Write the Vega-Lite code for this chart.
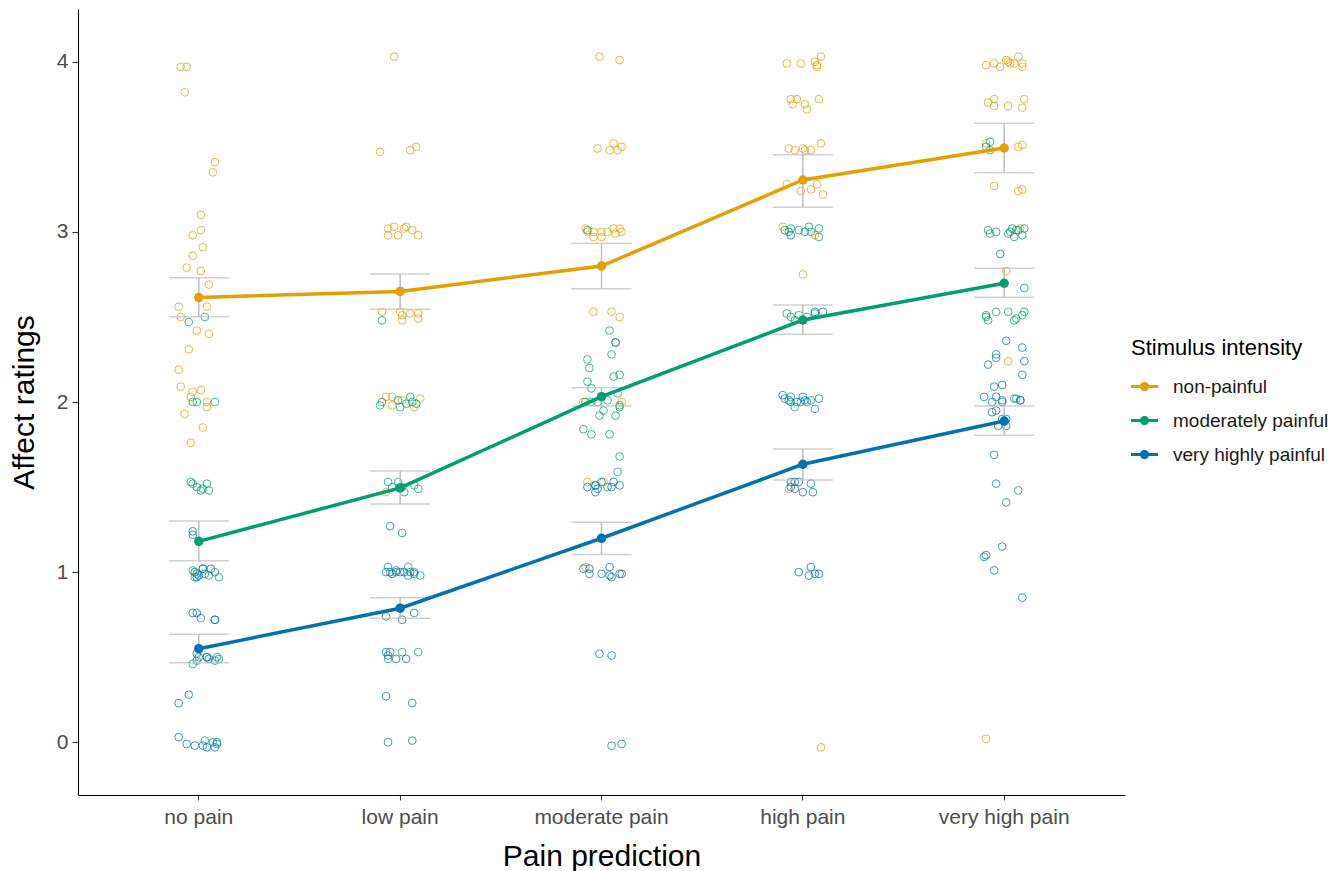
{
  "$schema": "https://vega.github.io/schema/vega-lite/v6.json",
  "width": 1047,
  "height": 786,
  "autosize": {"type": "none"},
  "padding": {"left": 78, "top": 9, "right": 218, "bottom": 76},
  "background": "white",
  "config": {"font": "Liberation Sans", "view": {"stroke": null}, "axis": {"grid": false}},
  "datasets": {
    "pts": [
      {"p": "no pain", "s": "non-painful", "j": [-0.09,-0.06,-0.07,0.08,0.07,0.01,0.01,-0.03,0.02,-0.03,-0.06,0.01,0.05,-0.10,0.04,-0.09,-0.01,0.05,-0.05,-0.10,-0.09,0.01,-0.03,-0.04,0.04,0.04,-0.07,0.02,-0.04], "v": [3.97,3.97,3.82,3.41,3.35,3.10,3.01,2.98,2.91,2.86,2.79,2.77,2.69,2.56,2.56,2.50,2.42,2.40,2.31,2.19,2.09,2.07,2.06,2.03,2.00,1.97,1.93,1.85,1.76]},
      {"p": "no pain", "s": "moderately painful", "j": [-0.05,0.03,-0.03,-0.01,0.08,-0.04,-0.03,-0.01,0.01,0.04,0.05,0.02,-0.03,-0.01,0.02,0.05,0.08,0.10,-0.02,-0.03,-0.01,0.09,0.04,0.10,0.03,0.07,0.09], "v": [2.47,2.50,2.00,2.00,2.00,1.53,1.52,1.50,1.48,1.52,1.48,1.49,1.01,0.99,1.02,0.98,1.00,0.97,0.97,0.46,0.48,0.50,0.50,0.49,0.01,0.00,-0.01]},
      {"p": "no pain", "s": "very highly painful", "j": [-0.03,-0.03,-0.02,0.00,0.02,0.06,-0.01,0.03,-0.03,-0.01,0.01,0.08,0.08,0.00,0.04,0.08,0.05,-0.01,-0.10,-0.05,-0.10,-0.06,-0.02,0.02,0.04,0.08,0.09], "v": [1.24,1.22,1.00,0.98,1.02,1.02,0.97,0.99,0.76,0.76,0.73,0.72,0.72,0.50,0.50,0.48,0.49,0.52,0.23,0.28,0.03,-0.01,-0.02,-0.02,-0.03,-0.03,0.00]},
      {"p": "low pain", "s": "non-painful", "j": [-0.03,-0.10,0.05,0.08,-0.06,-0.03,0.03,0.06,0.09,-0.06,-0.01,0.02,-0.09,0.00,0.01,0.05,0.09,0.09,0.01,-0.07,-0.04,-0.04,0.07,0.10,0.01,-0.07], "v": [4.03,3.47,3.48,3.50,3.02,3.03,3.03,3.01,2.98,2.98,2.98,3.02,2.53,2.53,2.48,2.52,2.52,2.49,2.51,2.03,2.03,1.98,1.97,2.02,2.01,1.47]},
      {"p": "low pain", "s": "moderately painful", "j": [-0.09,-0.10,-0.09,0.00,0.03,0.05,0.08,-0.01,0.06,-0.06,-0.01,0.02,0.07,0.09,-0.04,0.01,-0.06,-0.02,0.04,0.10,0.07,0.01,0.09,-0.06], "v": [2.48,1.98,2.00,1.97,1.99,2.03,1.99,2.01,2.00,1.53,1.53,1.47,1.51,1.49,1.50,1.50,1.03,1.01,1.03,0.98,1.00,0.53,0.53,0.49]},
      {"p": "low pain", "s": "very highly painful", "j": [-0.05,0.01,-0.07,-0.05,-0.02,0.00,0.02,0.05,0.07,-0.04,0.04,-0.07,0.01,0.07,-0.07,-0.05,-0.02,0.03,-0.06,-0.07,0.06,-0.06,0.06], "v": [1.27,1.23,1.00,1.00,1.00,1.00,1.00,1.00,0.99,0.99,0.98,0.74,0.72,0.76,0.53,0.53,0.49,0.49,0.51,0.27,0.23,0.00,0.01]},
      {"p": "moderate pain", "s": "non-painful", "j": [-0.01,0.09,-0.02,0.04,0.06,0.08,0.10,-0.08,-0.07,-0.04,0.00,0.03,0.06,0.09,0.10,0.00,-0.04,0.07,-0.04,0.05,0.09,-0.09,0.10,-0.07,0.01,-0.08], "v": [4.03,4.01,3.49,3.48,3.52,3.48,3.50,3.02,3.00,3.00,3.00,3.00,3.02,3.02,3.00,2.97,2.97,2.99,2.53,2.53,2.50,2.00,2.00,1.53,1.53,1.03]},
      {"p": "moderate pain", "s": "moderately painful", "j": [-0.07,0.04,0.07,0.07,0.05,-0.07,-0.06,0.06,0.09,-0.07,-0.05,-0.08,-0.05,-0.02,0.03,0.08,0.09,0.01,-0.01,0.07,0.09,-0.09,-0.05,0.04,0.09,0.08,0.03,-0.03], "v": [3.01,2.42,2.35,2.35,2.28,2.25,2.20,2.15,2.16,2.12,2.08,2.00,2.00,2.00,2.01,2.05,1.98,1.95,1.92,1.92,1.97,1.84,1.81,1.81,1.68,1.59,1.50,1.51]},
      {"p": "moderate pain", "s": "very highly painful", "j": [-0.07,-0.03,-0.02,0.00,0.06,0.09,0.05,-0.03,-0.09,-0.06,-0.06,0.00,0.04,0.05,0.09,0.04,0.10,-0.01,0.05,0.05,0.10], "v": [1.50,1.51,1.49,1.53,1.53,1.51,1.50,1.47,1.02,1.02,0.99,0.99,1.03,0.97,0.99,0.98,0.99,0.52,0.51,-0.02,-0.01]},
      {"p": "high pain", "s": "non-painful", "j": [-0.08,-0.01,0.06,0.09,0.07,0.07,-0.06,-0.03,-0.05,0.01,0.08,0.02,-0.07,-0.04,0.00,0.04,0.09,0.01,-0.08,-0.01,0.04,0.07,0.10,-0.10,0.06,0.00,-0.07,0.09], "v": [3.99,3.99,4.00,4.03,3.98,3.97,3.78,3.78,3.75,3.75,3.78,3.72,3.49,3.48,3.49,3.48,3.52,3.48,3.28,3.24,3.25,3.28,3.22,3.03,2.98,2.75,1.49,-0.03]},
      {"p": "high pain", "s": "moderately painful", "j": [-0.09,-0.06,-0.02,0.01,0.03,0.08,0.08,0.04,-0.07,-0.08,-0.06,-0.02,0.02,0.06,-0.04,-0.09,-0.06,-0.04,-0.01,0.02,0.06,0.04,-0.06], "v": [3.01,3.02,3.01,3.00,3.03,3.02,2.97,3.00,3.00,2.52,2.50,2.51,2.50,2.52,2.48,2.02,2.03,1.97,2.00,2.00,1.96,2.01,2.00]},
      {"p": "high pain", "s": "very highly painful", "j": [-0.06,0.06,0.10,-0.10,-0.07,0.00,0.01,0.08,-0.03,-0.06,-0.04,-0.02,0.04,-0.04,0.00,0.05,-0.06,-0.02,0.04,0.08,0.03,0.06], "v": [2.98,2.53,2.53,2.04,2.01,2.03,2.01,2.02,2.00,1.53,1.53,1.53,1.52,1.49,1.47,1.47,1.50,1.00,1.03,0.99,0.98,0.99]},
      {"p": "very high pain", "s": "non-painful", "j": [-0.09,-0.05,-0.02,0.01,0.03,0.05,0.07,0.09,0.09,0.02,-0.08,-0.05,-0.05,0.02,0.10,0.09,-0.09,0.07,0.09,-0.05,0.07,0.09,0.08,0.01,0.02,-0.09], "v": [3.98,3.99,3.97,4.01,3.99,3.99,4.03,3.99,3.97,4.00,3.76,3.78,3.74,3.74,3.78,3.73,3.52,3.50,3.51,3.27,3.24,3.25,3.02,2.77,2.24,0.02]},
      {"p": "very high pain", "s": "moderately painful", "j": [-0.09,-0.07,-0.07,-0.08,-0.07,-0.04,0.02,0.04,0.06,0.09,0.05,0.07,0.10,0.03,-0.09,-0.08,-0.04,0.02,0.05,0.06,0.09,0.10,-0.09,-0.01,0.05,0.06,0.07], "v": [3.50,3.53,3.48,3.01,2.99,3.00,2.99,3.02,3.01,2.98,2.97,3.01,3.02,3.00,2.51,2.48,2.53,2.53,2.48,2.49,2.51,2.53,2.50,2.01,2.02,2.02,1.48]},
      {"p": "very high pain", "s": "very highly painful", "j": [-0.02,0.10,0.01,0.09,-0.04,-0.04,-0.08,0.10,0.09,-0.05,-0.01,-0.10,-0.04,-0.06,-0.01,0.08,0.08,-0.06,-0.04,-0.03,0.01,-0.01,0.01,-0.05,-0.04,0.01,-0.01,-0.10,-0.09,-0.05,0.09], "v": [2.87,2.67,2.36,2.32,2.28,2.26,2.22,2.24,2.16,2.09,2.10,2.03,2.03,2.00,2.00,2.01,2.01,1.94,1.95,1.86,1.86,1.90,1.90,1.69,1.52,1.41,1.15,1.09,1.10,1.01,0.85]}
    ],
    "means": [
      {"p": "no pain", "s": "non-painful", "m": 2.614, "lo": 2.501, "hi": 2.731},
      {"p": "low pain", "s": "non-painful", "m": 2.650, "lo": 2.545, "hi": 2.752},
      {"p": "moderate pain", "s": "non-painful", "m": 2.799, "lo": 2.666, "hi": 2.933},
      {"p": "high pain", "s": "non-painful", "m": 3.305, "lo": 3.144, "hi": 3.453},
      {"p": "very high pain", "s": "non-painful", "m": 3.493, "lo": 3.348, "hi": 3.638},
      {"p": "no pain", "s": "moderately painful", "m": 1.181, "lo": 1.067, "hi": 1.301},
      {"p": "low pain", "s": "moderately painful", "m": 1.495, "lo": 1.401, "hi": 1.594},
      {"p": "moderate pain", "s": "moderately painful", "m": 2.031, "lo": 1.977, "hi": 2.084},
      {"p": "high pain", "s": "moderately painful", "m": 2.482, "lo": 2.398, "hi": 2.570},
      {"p": "very high pain", "s": "moderately painful", "m": 2.698, "lo": 2.615, "hi": 2.786},
      {"p": "no pain", "s": "very highly painful", "m": 0.550, "lo": 0.468, "hi": 0.635},
      {"p": "low pain", "s": "very highly painful", "m": 0.788, "lo": 0.729, "hi": 0.850},
      {"p": "moderate pain", "s": "very highly painful", "m": 1.199, "lo": 1.103, "hi": 1.293},
      {"p": "high pain", "s": "very highly painful", "m": 1.634, "lo": 1.542, "hi": 1.724},
      {"p": "very high pain", "s": "very highly painful", "m": 1.888, "lo": 1.804, "hi": 1.977}
    ]
  },
  "encoding": {
    "x": {
      "field": "p", "type": "nominal",
      "sort": ["no pain", "low pain", "moderate pain", "high pain", "very high pain"],
      "scale": {"type": "band", "paddingInner": 0, "paddingOuter": 0.1},
      "axis": {
        "title": "Pain prediction", "labelAngle": 0, "labelFontSize": 21, "labelColor": "#4D4D4D",
        "labelPadding": 6, "tickSize": 5, "tickColor": "#333333", "tickWidth": 1.1,
        "domainColor": "#000000", "domainWidth": 1.1,
        "titleFontSize": 30, "titleFontWeight": "normal", "titleColor": "#000000",
        "titleBaseline": "alphabetic", "titleY": 70
      }
    }
  },
  "layer": [
    {
      "data": {"name": "pts"},
      "transform": [{"flatten": ["j", "v"]}],
      "mark": {"type": "point", "filled": false, "size": 60, "strokeWidth": 1, "opacity": 0.75},
      "encoding": {
        "xOffset": {"field": "j", "type": "quantitative", "scale": {"domain": [-0.5, 0.5]}},
        "y": {
          "field": "v", "type": "quantitative",
          "scale": {"domain": [-0.31, 4.31], "nice": false, "zero": false},
          "axis": {
            "title": "Affect ratings", "values": [0, 1, 2, 3, 4], "format": "d", "labelFontSize": 21, "labelColor": "#4D4D4D",
            "labelPadding": 4, "tickSize": 6, "tickColor": "#333333", "tickWidth": 1.1,
            "domainColor": "#000000", "domainWidth": 1.1,
            "titleFontSize": 30, "titleFontWeight": "normal", "titleColor": "#000000",
            "titleBaseline": "alphabetic", "titleX": -45, "titleY": 393, "titleAngle": 270
          }
        },
        "color": {
          "field": "s", "type": "nominal",
          "scale": {"domain": ["non-painful", "moderately painful", "very highly painful"], "range": ["#E69F00", "#009E73", "#0072B2"]},
          "legend": {
            "title": "Stimulus intensity", "orient": "none", "legendX": 1053, "legendY": 329,
            "titleFontSize": 22, "titleFontWeight": "normal", "titleColor": "#000000", "titlePadding": 13,
            "labelFontSize": 19, "labelColor": "#1A1A1A", "labelOffset": 15, "rowPadding": 10, "padding": 0,
            "symbolSize": 729, "symbolStrokeWidth": 0, "symbolOpacity": 1,
            "symbolType": "M-1,-0.11L1,-0.11L1,0.11L-1,0.11Z M0.34,0A0.34,0.34 0 1,1 -0.34,0A0.34,0.34 0 1,1 0.34,0Z",
            "encode": {"symbols": {"update": {"fill": {"scale": "color", "field": "value"}, "stroke": {"value": "transparent"}, "opacity": {"value": 1}}}}
          }
        }
      }
    },
    {
      "data": {"name": "means"},
      "mark": {"type": "rule", "color": "#BEBEBE", "strokeWidth": 1.5},
      "encoding": {
        "y": {"field": "lo", "type": "quantitative"},
        "y2": {"field": "hi"}
      }
    },
    {
      "data": {"name": "means"},
      "mark": {"type": "tick", "orient": "horizontal", "color": "#BEBEBE", "size": 60, "thickness": 1.5},
      "encoding": {"y": {"field": "lo", "type": "quantitative"}}
    },
    {
      "data": {"name": "means"},
      "mark": {"type": "tick", "orient": "horizontal", "color": "#BEBEBE", "size": 60, "thickness": 1.5},
      "encoding": {"y": {"field": "hi", "type": "quantitative"}}
    },
    {
      "data": {"name": "means"},
      "mark": {"type": "line", "strokeWidth": 3.5},
      "encoding": {
        "y": {"field": "m", "type": "quantitative"},
        "color": {"field": "s", "type": "nominal"}
      }
    },
    {
      "data": {"name": "means"},
      "mark": {"type": "point", "filled": true, "size": 90, "opacity": 1},
      "encoding": {
        "y": {"field": "m", "type": "quantitative"},
        "color": {"field": "s", "type": "nominal"}
      }
    }
  ]
}
